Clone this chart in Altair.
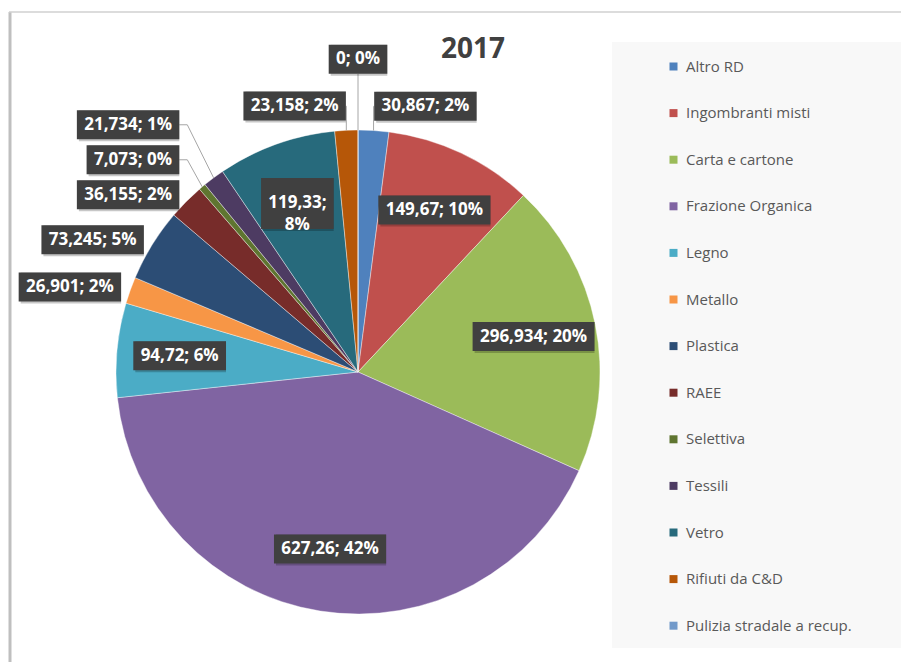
import math
import altair as alt
import pandas as pd

# ---------------- data ----------------
categories = ["Altro RD", "Ingombranti misti", "Carta e cartone", "Frazione Organica",
              "Legno", "Metallo", "Plastica", "RAEE", "Selettiva", "Tessili", "Vetro",
              "Rifiuti da C&D", "Pulizia stradale a recup."]
values = [30.867, 149.67, 296.934, 627.26, 94.72, 26.901, 73.245, 36.155, 7.073,
          21.734, 119.33, 23.158, 0]
colors = ["#4F81BD", "#C0504D", "#9BBB59", "#8064A2", "#4BACC6", "#F79646", "#2C4D75",
          "#772C2A", "#5F7530", "#4D3B62", "#276A7C", "#B65708", "#729ACA"]
title_text = "2017"

# ---------------- layout constants ----------------
VIEW_W, VIEW_H = 700, 580
PIE_R = 242
PAD = {"left": 0, "top": 74, "right": 193, "bottom": 0}
LBL_FS = 17
BOX_PADX = 7
BOX_H1 = 29
LINE_H = 22
GAP = 6
TOP_GAP = 18

EM = {"0": .572, "1": .572, "2": .572, "3": .572, "4": .572, "5": .572, "6": .572,
      "7": .572, "8": .572, "9": .572, ",": .29, ";": .30, " ": .26, "%": .92}


def text_w(s):
    return sum(EM.get(ch, .6) for ch in s) * LBL_FS


total = sum(values)
arcs = pd.DataFrame({"cat": categories, "value": values, "idx": list(range(len(values)))})

# ---------------- label layout (pixels relative to pie center, y up) ----------------
labels = []
cum = 0.0
for i, (c, v) in enumerate(zip(categories, values)):
    a0 = cum / total * 2 * math.pi
    cum += v
    a1 = cum / total * 2 * math.pi
    mid = (a0 + a1) / 2
    frac = v / total
    num = f"{v:g}".replace(".", ",")
    pct = round(frac * 100)
    s, co = math.sin(mid), math.cos(mid)
    lab = {"cat": c, "mid": mid, "s": s, "c": co, "frac": frac}
    if frac >= 0.055:
        r = 0.74 * PIE_R
        px, py = r * s, r * co
        txt = f"{num}; {pct}%"
        w = text_w(txt) + 2 * BOX_PADX
        chord = 2 * r * math.sin((a1 - a0) / 2)
        if w * abs(co) + BOX_H1 * abs(s) > 1.1 * chord:
            lines = [f"{num};", f"{pct}%"]
        else:
            lines = [txt]
        w = max(text_w(t) for t in lines) + 2 * BOX_PADX
        h = BOX_H1 + LINE_H * (len(lines) - 1)
        lab.update(inside=True, lines=lines, w=w, h=h,
                   x0=px - w / 2, x1=px + w / 2, y0=py - h / 2, y1=py + h / 2)
    else:
        r = 1.04 * PIE_R
        px, py = r * s, r * co
        lines = [f"{num}; {pct}%"]
        w = text_w(lines[0]) + 2 * BOX_PADX
        h = BOX_H1
        if abs(s) < 0.02:
            side = 0
            x0, x1 = px - w / 2, px + w / 2
        elif s < 0:
            side = -1
            x0, x1 = px - w, px
        else:
            side = 1
            x0, x1 = px, px + w
        if abs(s) < 0.3:
            if co > 0:
                y0, y1 = py, py + h
            else:
                y0, y1 = py - h, py
        else:
            y0, y1 = py - h / 2, py + h / 2
        lab.update(inside=False, side=side, lines=lines, w=w, h=h,
                   x0=x0, x1=x1, y0=y0, y1=y1)
    labels.append(lab)


def overlaps(a, b):
    return not (a["x1"] + GAP <= b["x0"] or b["x1"] + GAP <= a["x0"] or
                a["y1"] + GAP <= b["y0"] or b["y1"] + GAP <= a["y0"])


placed = [l for l in labels if l["inside"]]
outside = sorted([l for l in labels if not l["inside"]], key=lambda l: abs(l["c"]))
for lab in outside:
    for _ in range(20):
        hit = [p for p in placed if not p["inside"] and overlaps(lab, p)]
        if not hit:
            break
        g = TOP_GAP if lab["side"] == 0 else GAP
        if lab["c"] > 0:
            ny0 = min(p["y1"] for p in hit) + g
            lab["y0"], lab["y1"] = ny0, ny0 + lab["h"]
        else:
            ny1 = max(p["y0"] for p in hit) - g
            lab["y0"], lab["y1"] = ny1 - lab["h"], ny1
        for p in hit:
            if abs(lab["s"]) >= 0.3 and p["side"] == lab["side"] and abs(p["s"]) >= 0.3:
                if lab["side"] < 0 and p["x1"] < lab["x1"]:
                    lab["x0"], lab["x1"] = p["x1"] - lab["w"], p["x1"]
                elif lab["side"] > 0 and p["x0"] > lab["x0"]:
                    lab["x0"], lab["x1"] = p["x0"], p["x0"] + lab["w"]
    placed.append(lab)

# leader lines
leaders = []
for lab in labels:
    if lab["inside"]:
        continue
    ex, ey = PIE_R * lab["s"], PIE_R * lab["c"]
    if lab["side"] < 0:
        ax, ay = lab["x1"], (lab["y0"] + lab["y1"]) / 2
    elif lab["side"] > 0:
        ax, ay = lab["x0"], (lab["y0"] + lab["y1"]) / 2
    else:
        ax = (lab["x0"] + lab["x1"]) / 2
        ay = lab["y0"] if lab["c"] > 0 else lab["y1"]
    if math.hypot(ex - ax, ey - ay) < 15:
        continue
    if lab["side"] != 0:
        step = min(8, abs(ex - ax)) * (1 if ex > ax else -1)
        pts = [(ax, ay), (ax + step, ay), (ex, ey)]
    else:
        pts = [(ax, ay), (ex, ey)]
    for k, (qx, qy) in enumerate(pts):
        leaders.append({"cat": lab["cat"], "seq": k, "lx": qx / PIE_R, "ly": qy / PIE_R})

lab_df = pd.DataFrame([{
    "cat": l["cat"],
    "text": "\n".join(l["lines"]),
    "x0": l["x0"] / PIE_R, "x1": l["x1"] / PIE_R,
    "y0": l["y0"] / PIE_R, "y1": l["y1"] / PIE_R,
    "cx": (l["x0"] + l["x1"]) / 2 / PIE_R, "cy": (l["y0"] + l["y1"]) / 2 / PIE_R,
} for l in labels])
lead_df = pd.DataFrame(leaders)

xs = alt.Scale(domain=[-VIEW_W / 2 / PIE_R, VIEW_W / 2 / PIE_R], nice=False, zero=False)
ys = alt.Scale(domain=[-VIEW_H / 2 / PIE_R, VIEW_H / 2 / PIE_R], nice=False, zero=False)

FONT = "Open Sans"

# legend background panel & frame
legend_bg = alt.Chart(alt.Data(values=[{}])).mark_rect(color="#f8f8f8").encode(
    x=alt.value(604), x2=alt.value(900), y=alt.value(-40), y2=alt.value(566))
frame_left = alt.Chart(alt.Data(values=[{}])).mark_rule(color="#bfbfbf", strokeWidth=3).encode(
    x=alt.value(2), y=alt.value(-70), y2=alt.value(590))
frame_top = alt.Chart(alt.Data(values=[{}])).mark_rule(color="#d0d0d0", strokeWidth=1.5).encode(
    x=alt.value(1), x2=alt.value(900), y=alt.value(-70))

pie = alt.Chart(arcs).mark_arc(outerRadius=PIE_R, stroke="white", strokeWidth=0.4).encode(
    theta=alt.Theta("value:Q", stack=True),
    color=alt.Color("cat:N", scale=alt.Scale(domain=categories, range=colors),
                    legend=alt.Legend(title=None, orient="none", legendX=658, legendY=-23,
                                      symbolType="square", symbolSize=64, symbolStrokeWidth=0,
                                      labelFont=FONT, labelFontSize=15, labelColor="#595959",
                                      labelOffset=5, rowPadding=30.6, padding=0, labelLimit=260)),
    order=alt.Order("idx:Q"),
)

lead = alt.Chart(lead_df).mark_line(color="#a6a6a6", strokeWidth=1).encode(
    x=alt.X("lx:Q", scale=xs, axis=None),
    y=alt.Y("ly:Q", scale=ys, axis=None),
    detail="cat:N", order="seq:Q")

shadow = alt.Chart(lab_df).mark_rect(color="#000000", opacity=0.22, xOffset=2, yOffset=2).encode(
    x=alt.X("x0:Q", scale=xs, axis=None), x2="x1:Q",
    y=alt.Y("y0:Q", scale=ys, axis=None), y2="y1:Q")

boxes = alt.Chart(lab_df).mark_rect(color="#404040").encode(
    x=alt.X("x0:Q", scale=xs, axis=None), x2="x1:Q",
    y=alt.Y("y0:Q", scale=ys, axis=None), y2="y1:Q")

texts = alt.Chart(lab_df).mark_text(color="white", font=FONT, fontSize=LBL_FS, fontWeight="bold",
                                    align="center", baseline="middle", lineBreak="\n",
                                    lineHeight=LINE_H).encode(
    x=alt.X("cx:Q", scale=xs, axis=None),
    y=alt.Y("cy:Q", scale=ys, axis=None),
    text="text:N")

title = alt.Chart(alt.Data(values=[{"t": title_text}])).mark_text(
    font=FONT, fontSize=28, fontWeight="bold", color="#404040", align="center",
    baseline="middle").encode(x=alt.value(465), y=alt.value(-32), text="t:N")

chart = alt.layer(legend_bg, frame_left, frame_top, pie, lead, shadow, boxes, texts, title).properties(
    width=VIEW_W, height=VIEW_H, padding=PAD, background="white",
    autosize=alt.AutoSizeParams(type="none"),
).configure_view(stroke=None)

chart.save("out.html", embed_options={"renderer": "svg", "actions": False})
